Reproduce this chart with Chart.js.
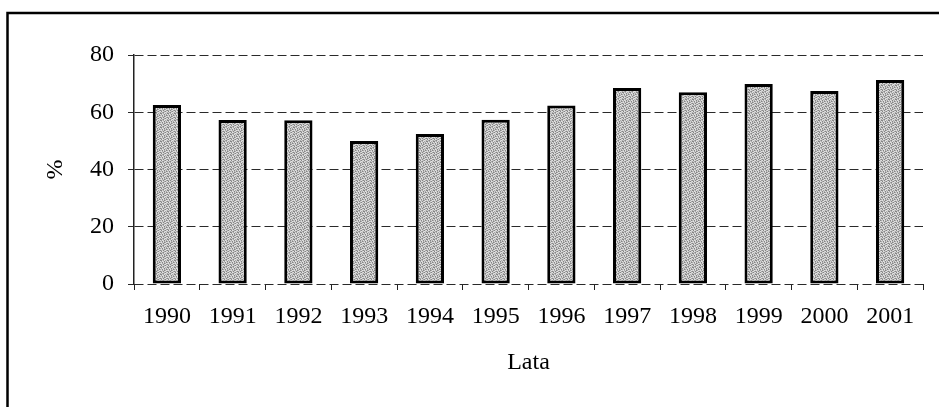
<!DOCTYPE html>
<html>
<head>
<meta charset="utf-8">
<script src="https://cdn.jsdelivr.net/npm/chart.js@4.4.1/dist/chart.umd.min.js"></script>
<style>
  html, body { margin: 0; padding: 0; background: #fff; overflow: hidden; }
  #wrap { position: absolute; left: 0; top: 0; width: 939px; height: 407px; }
</style>
</head>
<body>
<div id="wrap"><canvas id="myChart" width="939" height="407"></canvas></div>
<script>
// data
const years = ['1990', '1991', '1992', '1993', '1994', '1995', '1996', '1997', '1998', '1999', '2000', '2001'];
const shares = [62.5, 57.3, 57.2, 50.0, 52.4, 57.4, 62.4, 68.5, 67.0, 69.9, 67.4, 71.3];
const yTicks = [0, 20, 40, 60, 80];

const serif = 'Liberation Serif';

// small fixed stipple pattern for the bar fill
function stipple() {
  const cells = [
    '0120301', '2013102', '1302013', '0231021', '3102130', '1020312', '2301203'
  ];
  const shades = ['#cfcfcf', '#a8a8a8', '#858585', '#e2e2e2'];
  const c = document.createElement('canvas');
  c.width = 7; c.height = 7;
  const g = c.getContext('2d');
  for (let y = 0; y < 7; y++) {
    for (let x = 0; x < 7; x++) {
      g.fillStyle = shades[+cells[y][x]];
      g.fillRect(x, y, 1, 1);
    }
  }
  return g.createPattern(c, 'repeat');
}

// outer frame of the figure
const frame = {
  id: 'frame',
  beforeDraw(chart) {
    const ctx = chart.ctx;
    ctx.save();
    ctx.strokeStyle = '#000';
    ctx.lineWidth = 2.5;
    ctx.strokeRect(7.5, 13, 980, 430);
    ctx.restore();
  }
};

const ctx = document.getElementById('myChart');
new Chart(ctx, {
  type: 'bar',
  data: {
    labels: years,
    datasets: [{
      data: shares,
      backgroundColor: stipple(),
      borderColor: '#000',
      borderWidth: 3,
      borderSkipped: false,
      categoryPercentage: 1,
      barPercentage: 0.43
    }]
  },
  options: {
    responsive: false,
    animation: false,
    events: [],
    layout: { padding: { top: 55, right: 16, bottom: 0, left: 0 } },
    plugins: {
      legend: { display: false },
      tooltip: { enabled: false },
      title: { display: false }
    },
    scales: {
      x: {
        grid: {
          display: true,
          drawOnChartArea: false,
          drawTicks: true,
          tickLength: 6,
          color: '#222',
          lineWidth: 1
        },
        border: { display: false },
        ticks: {
          color: '#000',
          padding: 12,
          maxRotation: 0,
          autoSkip: false,
          font: { family: serif, size: 24 }
        },
        title: {
          display: true,
          text: 'Lata',
          color: '#000',
          padding: { top: 0, bottom: 30 },
          font: { family: serif, size: 24 }
        },
        afterFit(scale) { scale.height = 123; }
      },
      y: {
        min: 0,
        max: 80,
        afterBuildTicks(scale) { scale.ticks = yTicks.map(v => ({ value: v })); },
        grid: {
          color: '#2a2a2a',
          lineWidth: 1,
          tickLength: 6
        },
        border: { display: true, color: '#222', width: 1.5, dash: [9, 4] },
        ticks: {
          color: '#000',
          padding: 14,
          font: { family: serif, size: 24 }
        },
        title: {
          display: true,
          text: '%',
          color: '#000',
          padding: { top: 41, bottom: 0 },
          font: { family: serif, size: 24 }
        },
        afterFit(scale) { scale.width = 134; }
      }
    }
  },
  plugins: [frame]
});
</script>
</body>
</html>
